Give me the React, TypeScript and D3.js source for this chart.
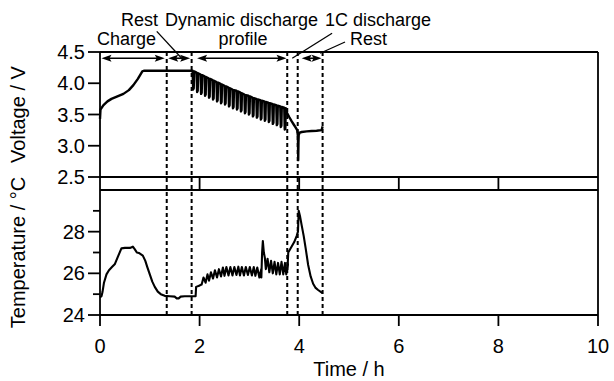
import React from 'react';
import * as d3 from 'd3';

const W = 614;
const H = 381;
const FONT = '"Liberation Sans", Arial, Helvetica, sans-serif';

// ---------- axis ticks ----------
const timeTicks = [0, 2, 4, 6, 8, 10];
const stripTicks = [2, 4, 6, 8];
const voltTicks = [2.5, 3.0, 3.5, 4.0, 4.5];
const tempMajorTicks = [24, 26, 28];
const tempMinorTicks = [25, 27, 29];

// ---------- phase boundaries (h) ----------
const phaseBounds = [1.34, 1.84, 3.76, 3.97, 4.47];
const arrowStart = [0.03, 1.37, 1.95, 4.05];
const arrowEnd = [1.3, 1.81, 3.745, 4.45];

// ---------- voltage: charge + rest ----------
const chargeTime = [0, 0.01, 0.07, 0.15, 0.23, 0.35, 0.47, 0.58, 0.67, 0.76, 0.85, 0.88, 1.84];
const chargeVolt = [3.43, 3.58, 3.65, 3.71, 3.75, 3.79, 3.83, 3.89, 3.97, 4.07, 4.19, 4.2, 4.2];

// ---------- voltage: dynamic discharge cycles ----------
const dynCycleTime = [1.86, 1.94, 2.02, 2.1, 2.18, 2.26, 2.34, 2.42, 2.5, 2.58, 2.66, 2.74, 2.82, 2.9, 2.98, 3.06, 3.14, 3.22, 3.3, 3.38, 3.46, 3.54, 3.62, 3.7];
const dynCycleTop = [4.2, 4.17, 4.14, 4.11, 4.08, 4.05, 4.02, 3.99, 3.96, 3.93, 3.9, 3.88, 3.85, 3.82, 3.8, 3.77, 3.75, 3.73, 3.71, 3.69, 3.67, 3.65, 3.63, 3.61];
const dynCycleBottom = [3.9, 3.86, 3.83, 3.8, 3.77, 3.74, 3.71, 3.68, 3.66, 3.63, 3.6, 3.58, 3.55, 3.52, 3.5, 3.47, 3.45, 3.42, 3.4, 3.38, 3.35, 3.33, 3.3, 3.26];

// ---------- voltage: 1C discharge + rest ----------
const tailTime = [3.72, 3.76, 3.8, 3.85, 3.89, 3.93, 3.96, 3.975, 3.98, 3.985, 3.99, 4.01, 4.05, 4.15, 4.25, 4.35, 4.45, 4.47];
const tailVolt = [3.58, 3.52, 3.46, 3.39, 3.34, 3.29, 3.25, 3.15, 2.77, 3.05, 3.17, 3.21, 3.22, 3.23, 3.235, 3.24, 3.25, 3.31];

// ---------- temperature ----------
const tempStartTime = [0, 0.03, 0.05, 0.08, 0.13, 0.18, 0.24, 0.3, 0.36, 0.43, 0.5, 0.6, 0.66, 0.7, 0.74, 0.78, 0.86, 0.91, 0.95, 1.0, 1.05, 1.1, 1.16, 1.22, 1.3, 1.4, 1.5, 1.54, 1.58, 1.62, 1.7, 1.8, 1.92, 1.93, 1.99, 2.02];
const tempStartValue = [24.85, 24.9, 25.1, 25.55, 25.95, 26.15, 26.3, 26.45, 26.8, 27.2, 27.22, 27.22, 27.28, 27.15, 27.0, 26.98, 26.85, 26.6, 26.3, 25.95, 25.6, 25.35, 25.12, 25.0, 24.92, 24.9, 24.88, 24.8, 24.8, 24.88, 24.9, 24.9, 24.9, 25.35, 25.4, 25.45];

const tempDynTime = [2.04, 2.12, 2.19, 2.27, 2.35, 2.43, 2.5, 2.58, 2.66, 2.74, 2.81, 2.89, 2.97, 3.05, 3.12, 3.2];
const tempDynLow = [25.45, 25.55, 25.65, 25.75, 25.8, 25.85, 25.88, 25.9, 25.9, 25.92, 25.9, 25.9, 25.92, 25.9, 25.88, 25.8];
const tempDynHigh = [25.8, 25.95, 26.05, 26.15, 26.2, 26.28, 26.3, 26.3, 26.3, 26.32, 26.3, 26.3, 26.3, 26.3, 26.28, 26.2];

const tempSpikeTime = [3.24, 3.255, 3.27, 3.29, 3.31];
const tempSpikeValue = [25.8, 27.0, 27.55, 27.0, 26.75];

const tempDyn2Time = [3.33, 3.4, 3.47, 3.54, 3.61, 3.68, 3.74];
const tempDyn2Low = [26.2, 26.05, 26.0, 25.95, 25.95, 25.95, 25.95];
const tempDyn2High = [26.7, 26.6, 26.55, 26.5, 26.55, 26.5, 26.45];

const tempEndTime = [3.765, 3.78, 3.84, 3.9, 3.95, 3.975, 3.99, 4.02, 4.05, 4.09, 4.13, 4.18, 4.23, 4.28, 4.33, 4.38, 4.44, 4.47];
const tempEndValue = [26.2, 27.0, 27.25, 27.5, 27.8, 28.0, 29.0, 28.7, 28.3, 27.8, 27.2, 26.4, 25.85, 25.5, 25.3, 25.2, 25.1, 25.05];

type P = [number, number];

function zipPts(ts: number[], vs: number[]): P[] {
  return ts.map((t, i) => [t, vs[i]] as P);
}

function buildVoltage(): P[] {
  const pts: P[] = zipPts(chargeTime, chargeVolt);
  dynCycleTime.forEach((t, i) => {
    pts.push([t, dynCycleTop[i]]);
    pts.push([t + 0.01, dynCycleBottom[i]]);
    pts.push([t + 0.022, dynCycleBottom[i] + 0.02]);
    pts.push([t + 0.03, dynCycleTop[i] - 0.01]);
  });
  return pts.concat(zipPts(tailTime, tailVolt));
}

function buildTemperature(): P[] {
  let pts: P[] = zipPts(tempStartTime, tempStartValue);
  tempDynTime.forEach((t, i) => {
    pts.push([t, tempDynLow[i]]);
    pts.push([t + 0.038, tempDynHigh[i]]);
  });
  pts = pts.concat(zipPts(tempSpikeTime, tempSpikeValue));
  tempDyn2Time.forEach((t, i) => {
    pts.push([t, tempDyn2Low[i]]);
    pts.push([t + 0.035, tempDyn2High[i]]);
  });
  return pts.concat(zipPts(tempEndTime, tempEndValue));
}

export default function App() {
  const x = d3.scaleLinear().domain([0, 10]).range([100, 598]);
  const yV = d3.scaleLinear().domain([2.5, 4.5]).range([177, 52]);
  const yT = d3.scaleLinear().domain([24, 30]).range([315, 190]);
  const stripBottom = 190;

  const lineV = d3.line<P>().x((d) => x(d[0])).y((d) => yV(d[1]));
  const lineT = d3.line<P>().x((d) => x(d[0])).y((d) => yT(d[1]));

  const voltPath = lineV(buildVoltage()) || '';
  const tempPath = lineT(buildTemperature()) || '';

  const x0 = x(0);
  const x1 = x(10);
  const arrowY = yV(4.4);
  const axisW = 1.8;

  const head = (tip: number, dir: number) => {
    const L = 10;
    const hw = 3.6;
    return `${tip},${arrowY} ${tip - dir * L},${arrowY - hw} ${tip - dir * (L - 2)},${arrowY} ${tip - dir * L},${arrowY + hw}`;
  };

  const fmtV = d3.format('.1f');

  return (
    <svg
      width={W}
      height={H}
      style={{ position: 'absolute', left: 0, top: 0, background: '#fff' }}
      fontFamily={FONT}
    >
      <rect x={0} y={0} width={W} height={H} fill="#fff" />

      {/* data curves */}
      <path d={voltPath} fill="none" stroke="#000" strokeWidth={2.4} strokeLinejoin="round" />
      <path d={tempPath} fill="none" stroke="#000" strokeWidth={2.1} strokeLinejoin="round" />

      {/* phase boundaries */}
      {phaseBounds.map((t) => (
        <line
          key={`pb${t}`}
          x1={x(t)}
          x2={x(t)}
          y1={yV(4.5)}
          y2={yT(24)}
          stroke="#000"
          strokeWidth={2}
          strokeDasharray="4,3"
        />
      ))}

      {/* top panel frame */}
      <g stroke="#000" strokeWidth={axisW} fill="none">
        <line x1={x0} x2={x1} y1={yV(4.5)} y2={yV(4.5)} />
        <line x1={x0} x2={x0} y1={yV(4.5)} y2={stripBottom} />
        <line x1={x1} x2={x1} y1={yV(4.5)} y2={stripBottom} />
        <line x1={x0} x2={x1} y1={yV(2.5)} y2={yV(2.5)} />
        <line x1={x0} x2={x1} y1={stripBottom} y2={stripBottom} />
        {stripTicks.map((t) => (
          <line key={`st${t}`} x1={x(t)} x2={x(t)} y1={yV(2.5)} y2={stripBottom} />
        ))}
        {voltTicks.map((v) => (
          <line key={`vt${v}`} x1={x0 - 12} x2={x0} y1={yV(v)} y2={yV(v)} />
        ))}
      </g>

      {/* bottom panel frame */}
      <g stroke="#000" strokeWidth={axisW} fill="none">
        <line x1={x0} x2={x0} y1={stripBottom} y2={yT(24)} />
        <line x1={x1} x2={x1} y1={stripBottom} y2={yT(24)} />
        <line x1={x0} x2={x1} y1={yT(24)} y2={yT(24)} />
        {tempMajorTicks.map((v) => (
          <line key={`tt${v}`} x1={x0 - 12} x2={x0} y1={yT(v)} y2={yT(v)} />
        ))}
        {tempMinorTicks.map((v) => (
          <line key={`tm${v}`} x1={x0 - 7} x2={x0} y1={yT(v)} y2={yT(v)} />
        ))}
        {timeTicks.map((t) => (
          <line key={`xt${t}`} x1={x(t)} x2={x(t)} y1={yT(24)} y2={yT(24) + 11} />
        ))}
      </g>

      {/* tick labels */}
      <g fontSize={20} fill="#000">
        {voltTicks.map((v) => (
          <text key={`vl${v}`} x={x0 - 15} y={yV(v)} dy="0.35em" textAnchor="end">
            {fmtV(v)}
          </text>
        ))}
        {tempMajorTicks.map((v) => (
          <text key={`tl${v}`} x={x0 - 15} y={yT(v)} dy="0.35em" textAnchor="end">
            {v}
          </text>
        ))}
        {timeTicks.map((t) => (
          <text key={`xl${t}`} x={x(t)} y={353} textAnchor="middle">
            {t}
          </text>
        ))}
      </g>

      {/* axis titles */}
      <g fontSize={20} fill="#000">
        <text x={(x0 + x1) / 2} y={376} textAnchor="middle">
          Time / h
        </text>
        <text transform={`translate(25,${(yV(4.5) + yV(2.5)) / 2}) rotate(-90)`} textAnchor="middle">
          Voltage / V
        </text>
        <text transform={`translate(25,${(yT(24) + yT(30)) / 2}) rotate(-90)`} textAnchor="middle">
          Temperature / °C
        </text>
      </g>

      {/* phase arrows */}
      <g stroke="#000" strokeWidth={1.6} fill="#000">
        {arrowStart.map((s, i) => {
          const a = x(s);
          const b = x(arrowEnd[i]);
          return (
            <g key={`ar${i}`}>
              <line x1={a + 6} x2={b - 6} y1={arrowY} y2={arrowY} />
              <polygon points={head(b, 1)} stroke="none" />
              <polygon points={head(a, -1)} stroke="none" />
            </g>
          );
        })}
      </g>

      {/* leader lines */}
      <g stroke="#000" strokeWidth={1.3}>
        <line x1={x(1.14)} y1={yV(4.83)} x2={x(1.64)} y2={yV(4.4)} />
        <line x1={x(4.66)} y1={yV(4.8)} x2={x(3.86)} y2={yV(4.4)} />
        <line x1={x(4.92)} y1={yV(4.66)} x2={x(4.42)} y2={yV(4.48)} />
      </g>

      {/* phase labels */}
      <g fontSize={18} fill="#000">
        <text x={97} y={45}>Charge</text>
        <text x={121} y={26}>Rest</text>
        <text x={165} y={26}>Dynamic discharge</text>
        <text x={243} y={45} textAnchor="middle">profile</text>
        <text x={325} y={26}>1C discharge</text>
        <text x={350} y={45}>Rest</text>
      </g>
    </svg>
  );
}
